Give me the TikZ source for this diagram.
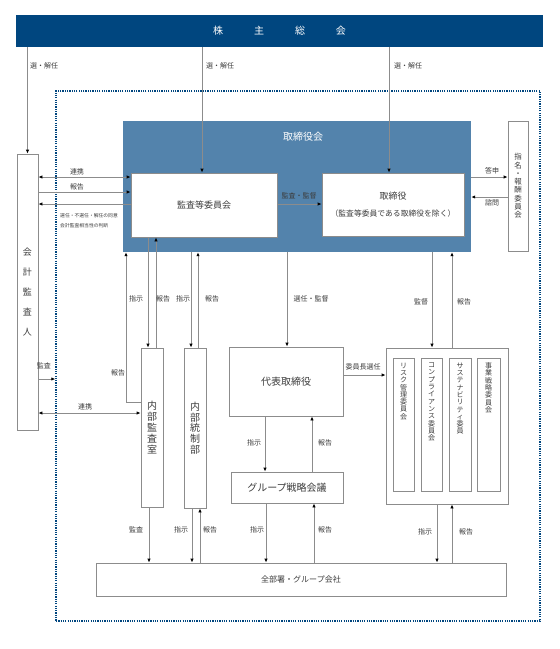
\documentclass[tikz,border=0pt]{standalone}
\usepackage{fontspec}
\setmainfont{Noto Sans CJK JP}
\usetikzlibrary{arrows.meta}

\definecolor{sokai}{HTML}{00467F}
\definecolor{torikai}{HTML}{5383AC}
\definecolor{sen}{HTML}{8C8C8C}
\definecolor{moji}{HTML}{3C3C3C}

\begin{document}
\begin{tikzpicture}[x=1pt, y=-1pt,
  >={Latex[length=4pt,width=3.4pt,color=black]},
  box/.style={draw=sen, fill=white, line width=0.8pt, inner sep=0pt, text=moji, align=center},
  ln/.style={draw=sen, line width=0.8pt},
  lbl/.style={font=\fontsize{7}{7}\selectfont, text=moji, inner sep=0pt},
  tiny/.style={font=\fontsize{4.8}{5}\selectfont, text=moji, inner sep=0pt, anchor=west},
  vtxt/.style={font=\fontsize{7}{7.3}\selectfont, text=moji, inner sep=0pt, align=center, anchor=north}]

  \useasboundingbox[fill=white] (0,0) rectangle (560,649);

  % dotted frame and the board
  \node[draw=sokai, line width=1.4pt, dash pattern=on 1.2pt off 1.1pt,
        minimum width=484pt, minimum height=530pt] (waku) at (298,356) {};
  \node[fill=torikai, minimum width=348pt, minimum height=131pt] (torikai) at (297,186.5) {};
  \node[text=white, font=\fontsize{10}{10}\selectfont] at (303,137) {取締役会};

  % shareholders
  \node[fill=sokai, text=white, font=\fontsize{10}{10}\selectfont,
        minimum width=527pt, minimum height=32pt] (kabu) at (279.5,31)
        {株\hspace{31pt}主\hspace{31pt}総\hspace{31pt}会};

  % boxes
  \node[box, minimum width=146pt, minimum height=64pt, font=\fontsize{9}{9}\selectfont] (kansa) at (204,205) {監査等委員会};
  \node[box, minimum width=142pt, minimum height=63pt, font=\fontsize{9}{11}\selectfont] (tori) at (393,204.5)
    {取締役\\[6pt]{\fontsize{7.8}{9}\selectfont （監査等委員である取締役を除く）}};
  \node[box, minimum width=20pt, minimum height=130pt, font=\fontsize{7.5}{8.3}\selectfont] (shimei) at (518,186)
    {指\\名\\・\\報\\酬\\委\\員\\会};
  \node[box, minimum width=21pt, minimum height=276pt, font=\fontsize{9}{20}\selectfont] (kaikei) at (27.5,292)
    {会\\計\\監\\査\\人};
  \node[box, minimum width=22pt, minimum height=159pt, font=\fontsize{10}{10.8}\selectfont] (naibu) at (152,427.5)
    {内\\部\\監\\査\\室};
  \node[box, minimum width=22pt, minimum height=160pt, font=\fontsize{10}{10.8}\selectfont] (tousei) at (195,428)
    {内\\部\\統\\制\\部};
  \node[box, minimum width=114pt, minimum height=69pt, font=\fontsize{10}{10}\selectfont] (daihyo) at (286,381.5) {代表取締役};
  \node[box, minimum width=112pt, minimum height=31pt, font=\fontsize{10}{10}\selectfont] (group) at (287,487.5) {グループ戦略会議};
  \node[box, minimum width=410pt, minimum height=33pt, font=\fontsize{8}{8}\selectfont] (zenbu) at (301,579.5) {全部署・グループ会社};

  % committees
  \node[box, minimum width=122pt, minimum height=156pt] (iinkai) at (447,426) {};
  \node[box, minimum width=21pt, minimum height=133pt] (r1) at (403.5,424.5) {};
  \node[box, minimum width=21pt, minimum height=133pt] (r2) at (431.5,424.5) {};
  \node[box, minimum width=22pt, minimum height=133pt] (r3) at (460,424.5) {};
  \node[box, minimum width=23pt, minimum height=133pt] (r4) at (488.5,424.5) {};
  \node[vtxt] at ([yshift=-5pt]r1.north) {リ\\ス\\ク\\管\\理\\委\\員\\会};
  \node[vtxt] at ([yshift=-5pt]r2.north) {コ\\ン\\プ\\ラ\\イ\\ア\\ン\\ス\\委\\員\\会};
  \node[vtxt] at ([yshift=-5pt]r3.north) {サ\\ス\\テ\\ナ\\ビ\\リ\\テ\\ィ\\委\\員};
  \node[vtxt] at ([yshift=-5pt]r4.north) {事\\業\\戦\\略\\委\\員\\会};

  % election by shareholders
  \draw[ln, ->] (kabu.south -| kaikei.north) -- (kaikei.north);
  \draw[ln, ->] (202,0 |- kabu.south) -- (202,0 |- kansa.north);
  \draw[ln, ->] (389,0 |- kabu.south) -- (389,0 |- tori.north);
  \node[lbl, anchor=west] at (30,66) {選・解任};
  \node[lbl, anchor=west] at (206,66) {選・解任};
  \node[lbl, anchor=west] at (394,66) {選・解任};

  % auditor and audit committee
  \draw[ln, <->] (kaikei.east |- 0,177) -- (kansa.west |- 0,177);
  \draw[ln, ->] (kaikei.east |- 0,192) -- (kansa.west |- 0,192);
  \draw[ln, ->] (kansa.west |- 0,204) -- (kaikei.east |- 0,204);
  \node[lbl] at (77,172) {連携};
  \node[lbl] at (77,187) {報告};
  \node[tiny] at (60,216) {選任・不選任・解任の同意};
  \node[tiny] at (60,226) {会計監査相当性の判断};

  % inside the board
  \draw[ln, ->] (kansa.east |- 0,204) -- (tori.west |- 0,204);
  \node[lbl] at (299,196) {監査・監督};
  \draw[ln, ->] (torikai.east |- 0,177) -- (shimei.west |- 0,177);
  \draw[ln, ->] (shimei.west |- 0,197) -- (torikai.east |- 0,197);
  \node[lbl] at (492,171) {答申};
  \node[lbl] at (492,203) {諮問};

  % internal audit and control
  \draw[ln, ->] (148,0 |- kansa.south) -- (148,0 |- naibu.north);
  \draw[ln, ->] (156,0 |- naibu.north) -- (156,0 |- kansa.south);
  \draw[ln, ->] (191,0 |- torikai.south) -- (191,0 |- tousei.north);
  \draw[ln, ->] (198,0 |- tousei.north) -- (198,0 |- torikai.south);
  \draw[ln, ->] (naibu.west |- 0,402) -| (126,0 |- torikai.south);
  \node[lbl] at (136,299) {指示};
  \node[lbl] at (163,299) {報告};
  \node[lbl] at (183,299) {指示};
  \node[lbl] at (212,299) {報告};
  \node[lbl] at (118,373) {報告};

  % representative director and committees
  \draw[ln, ->] (287,0 |- torikai.south) -- (287,0 |- daihyo.north);
  \node[lbl] at (311,299) {選任・監督};
  \draw[ln, ->] (432,0 |- torikai.south) -- (432,0 |- iinkai.north);
  \draw[ln, ->] (452,0 |- iinkai.north) -- (452,0 |- torikai.south);
  \node[lbl] at (421,302) {監督};
  \node[lbl] at (464,302) {報告};
  \draw[ln, ->] (daihyo.east |- 0,375) -- (iinkai.west |- 0,375);
  \node[lbl] at (363,367) {委員長選任};
  \draw[ln, ->] (265,0 |- daihyo.south) -- (265,0 |- group.north);
  \draw[ln, ->] (312,0 |- group.north) -- (312,0 |- daihyo.south);
  \node[lbl] at (254,443) {指示};
  \node[lbl] at (325,443) {報告};

  % auditor to the company
  \draw[ln, ->] (kaikei.east |- 0,379) -- (waku.west |- 0,379);
  \node[lbl] at (44,366) {監査};
  \draw[ln, <->] (kaikei.east |- 0,413) -- (naibu.west |- 0,413);
  \node[lbl] at (85,407) {連携};

  % down to all departments
  \draw[ln, ->] (149,0 |- naibu.south) -- (149,0 |- zenbu.north);
  \draw[ln, ->] (192,0 |- tousei.south) -- (192,0 |- zenbu.north);
  \draw[ln, ->] (200,0 |- zenbu.north) -- (200,0 |- tousei.south);
  \draw[ln, ->] (266,0 |- group.south) -- (266,0 |- zenbu.north);
  \draw[ln, ->] (314,0 |- zenbu.north) -- (314,0 |- group.south);
  \draw[ln, ->] (437,0 |- iinkai.south) -- (437,0 |- zenbu.north);
  \draw[ln, ->] (452,0 |- zenbu.north) -- (452,0 |- iinkai.south);
  \node[lbl] at (136,530) {監査};
  \node[lbl] at (181,530) {指示};
  \node[lbl] at (210,530) {報告};
  \node[lbl] at (257,530) {指示};
  \node[lbl] at (325,530) {報告};
  \node[lbl] at (425,532) {指示};
  \node[lbl] at (466,532) {報告};
\end{tikzpicture}
\end{document}
